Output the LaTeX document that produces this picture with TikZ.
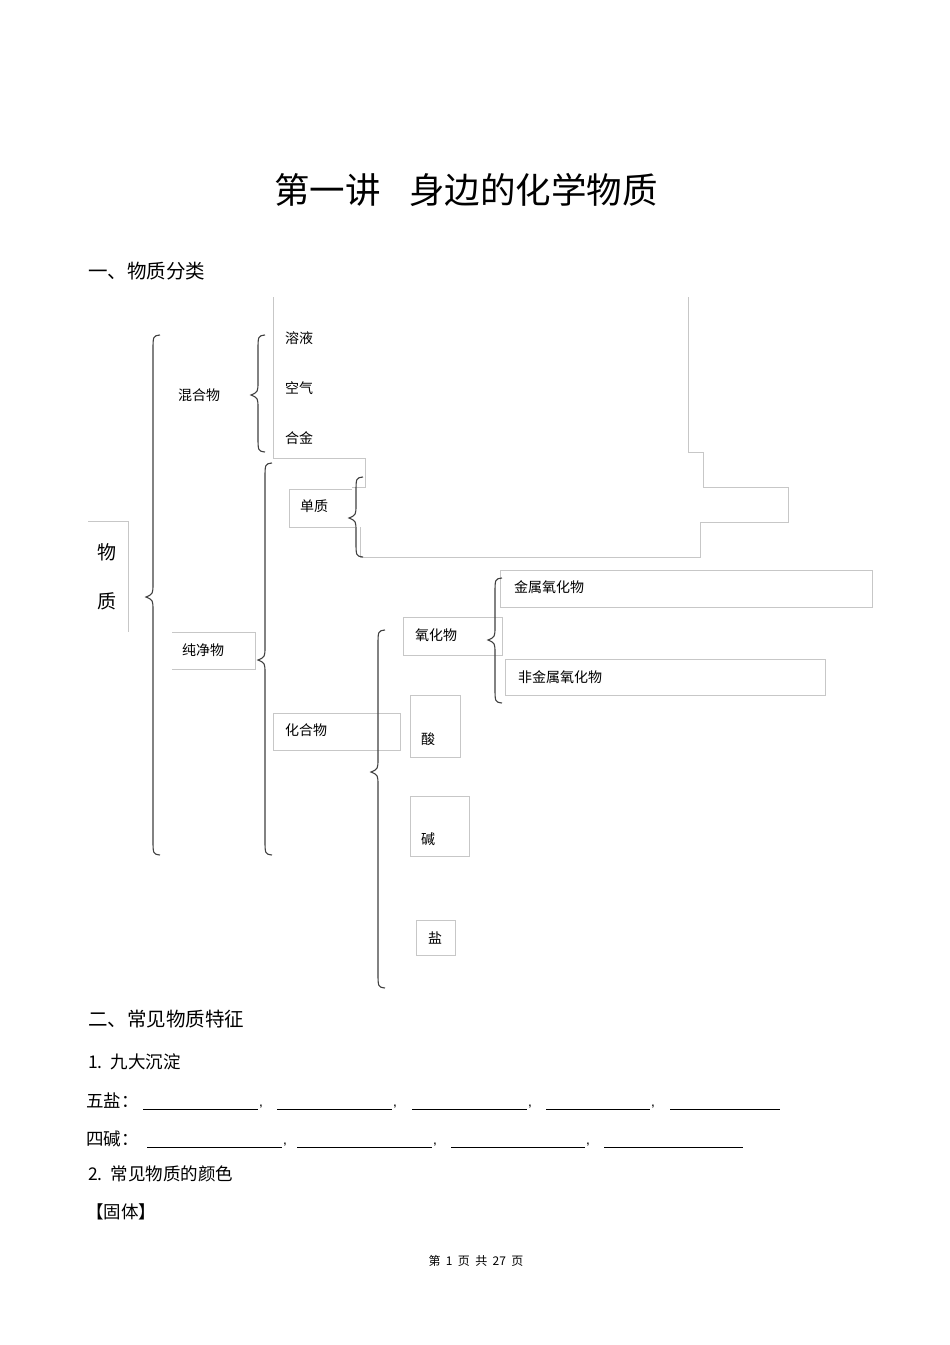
\documentclass[tikz,border=0pt]{standalone}
\usepackage{fontspec}
\setmainfont{Liberation Sans}
\newfontfamily\cjk{Noto Sans CJK SC}
\newcommand\cbrace[4]{\draw[brc] ({#1+7},#2) .. controls ({#1},{#2+1}) .. ({#1},{#2+16}) -- ({#1},{#4-14}) .. controls ({#1},{#4-3}) .. ({#1-7},#4) .. controls ({#1},{#4+3}) .. ({#1},{#4+14}) -- ({#1},{#3-16}) .. controls ({#1},{#3-1}) .. ({#1+7},#3);}
\begin{document}
\begin{tikzpicture}[x=1pt,y=-1pt,
  box/.style={draw=black!22,line width=0.6pt},
  brc/.style={draw=black!75,line width=1.1pt},
  lab/.style={font=\cjk\fontsize{14}{16}\selectfont,anchor=west,inner sep=0pt},
  txt/.style={font=\cjk\fontsize{19.5}{22}\selectfont,anchor=west,inner sep=0pt}]
\useasboundingbox[fill=white] (0,0) rectangle (950,1345);
\node[font=\cjk\fontsize{35.5}{40}\selectfont] (title) at (466,190) {第一讲\hspace{0.8em}身边的化学物质};
\node[txt] (s1) at (88,271) {一、物质分类};
% boxes
\draw[box] (88,521) -- (128,521) -- (128,632);
\draw[box] (273,297) -- (273,458) -- (365,458) -- (365,487) -- (352,487);
\draw[box] (688,297) -- (688,452) -- (703,452) -- (703,487) -- (788,487) -- (788,522) -- (700,522) -- (700,557) -- (360,557) -- (360,527);
\draw[box] (352,489) -- (289,489) -- (289,527) -- (355,527);
\draw[box] (500,570) rectangle (872,607);
\draw[box] (505,659) rectangle (825,695);
\draw[box] (403,617) rectangle (502,655);
\draw[box] (172,632) -- (255,632) -- (255,669) -- (172,669);
\draw[box] (273,713) rectangle (400,750);
\draw[box] (410,695) rectangle (460,757);
\draw[box] (410,796) rectangle (469,856);
\draw[box] (416,920) rectangle (455,955);
% braces
\cbrace{153}{335}{855}{597}
\cbrace{258}{335}{452}{395}
\cbrace{265}{463}{855}{660}
\cbrace{356}{477}{557}{518}
\cbrace{378}{630}{988}{772}
\cbrace{495}{578}{703}{640}
% labels
\node[font=\cjk\fontsize{19}{22}\selectfont,inner sep=0pt] (wu) at (107,552) {物};
\node[font=\cjk\fontsize{19}{22}\selectfont,inner sep=0pt] (zhi) at (107,601) {质};
\node[lab] (hh) at (178,395) {混合物};
\node[lab] (ry) at (285,338) {溶液};
\node[lab] (kq) at (285,388) {空气};
\node[lab] (hj) at (285,438) {合金};
\node[lab] (dz) at (300,506) {单质};
\node[lab] (cj) at (182,650) {纯净物};
\node[lab] (hhw) at (285,730) {化合物};
\node[lab] (yhw) at (415,635) {氧化物};
\node[lab] (js) at (514,587) {金属氧化物};
\node[lab] (fjs) at (518,677) {非金属氧化物};
\node[lab] (s) at (421,739) {酸};
\node[lab] (j) at (421,839) {碱};
\node[lab] (y) at (428,938) {盐};
% section 2
\node[txt] (s2) at (88,1019) {二、常见物质特征};
\node[txt,font=\cjk\fontsize{17.5}{20}\selectfont] (n1) at (88,1062) {1.\ \ 九大沉淀};
\node[txt,font=\cjk\fontsize{17.5}{20}\selectfont] (ws) at (86,1101) {五盐：};
\node[txt,font=\cjk\fontsize{17.5}{20}\selectfont] (sj) at (86,1139) {四碱：};
\foreach \a/\b in {143/258,277/392,412/527,546/650}{\draw (\a,1109) -- (\b,1109); \node[inner sep=0pt,font=\bfseries] at (\b+3,1107) {,};}
\draw (670,1109) -- (780,1109);
\foreach \a/\b in {147/282,297/432,451/585}{\draw (\a,1147) -- (\b,1147); \node[inner sep=0pt,font=\bfseries] at (\b+3,1145) {,};}
\draw (604,1147) -- (743,1147);
\node[txt,font=\cjk\fontsize{17.5}{20}\selectfont] (n2) at (88,1174) {2.\ \ 常见物质的颜色};
\node[txt,font=\cjk\fontsize{17.5}{20}\selectfont] (gt) at (86,1212) {【固体】};
\node[font=\cjk\fontsize{12}{14}\selectfont] (pg) at (476,1261) {第\ \ 1\ \ 页\ \ 共\ \ 27\ \ 页};
\end{tikzpicture}
\end{document}
